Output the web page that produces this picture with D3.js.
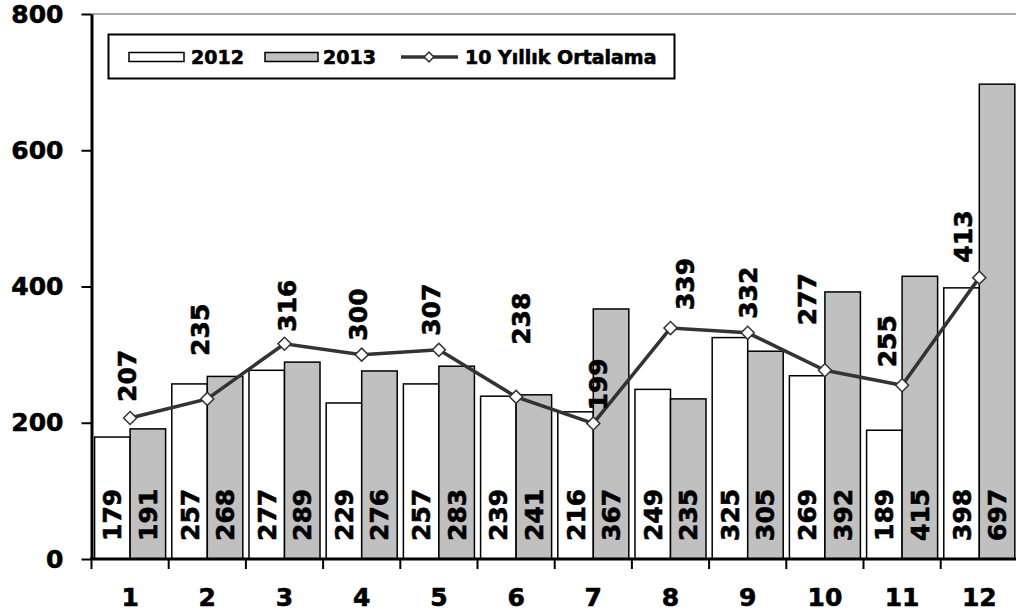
<!DOCTYPE html>
<html><head><meta charset="utf-8">
<script src="https://cdn.jsdelivr.net/npm/d3@7/dist/d3.min.js"></script>
<style>
html,body{margin:0;padding:0;background:#fff;}
text{font-family:"DejaVu Sans",Verdana,sans-serif;font-weight:bold;fill:#000;stroke:#000;stroke-width:0.6px;}
</style></head>
<body>
<svg id="chart" width="1016" height="615"></svg>
<script>
const months = ["1","2","3","4","5","6","7","8","9","10","11","12"];
const seriesNames = ["2012","2013"];
const values2012 = [179,257,277,229,257,239,216,249,325,269,189,398];
const values2013 = [191,268,289,276,283,241,367,235,305,392,415,697];
const average10 = [207,235,316,300,307,238,199,339,332,277,255,413];
const averageName = "10 Yıllık Ortalama";
const yTicks = [0,200,400,600,800];

// label placement tweaks relative to the marker (layout, px)
const avgLabelLift = [16,43,12,14,14,52,13,18,14,45,18,15];
const avgLabelShift = [-3,-7,2,-4,-8,5,5,14,0,-18,-15,-16];

const svg = d3.select("#chart");
const fontSize = 25;
const xLeft = 91.5, xRight = 1017.9, yBottom = 559, yTop = 14;

const x0 = d3.scaleBand().domain(months).range([xLeft, xRight]).paddingInner(0.08).paddingOuter(0.04);
const x1 = d3.scaleBand().domain(seriesNames).range([0, x0.bandwidth()]);
const y = d3.scaleLinear().domain([0, 800]).range([yBottom, yTop]);
const fills = {"2012":"#ffffff","2013":"#c0c0c0"};

// top border line
svg.append("line").attr("x1", xLeft).attr("x2", 1016).attr("y1", y(800)).attr("y2", y(800))
  .attr("stroke", "#8c8c8c").attr("stroke-width", 1.5);

// bars
const barData = months.map((m,i)=>({m, vals:[{s:"2012",v:values2012[i]},{s:"2013",v:values2013[i]}]}));
const g = svg.append("g");
const groups = g.selectAll("g.grp").data(barData).join("g").attr("class","grp")
  .attr("transform", d=>`translate(${x0(d.m)},0)`);
groups.selectAll("rect").data(d=>d.vals).join("rect")
  .attr("x", d=>x1(d.s)).attr("width", x1.bandwidth())
  .attr("y", d=>y(d.v)).attr("height", d=>y(0)-y(d.v))
  .attr("fill", d=>fills[d.s]).attr("stroke", "#000").attr("stroke-width", 1.5);
groups.selectAll("text").data(d=>d.vals).join("text")
  .attr("transform", d=>`translate(${x1(d.s)+x1.bandwidth()/2},${y(0)-18}) rotate(-90)`)
  .attr("dy", "0.36em").attr("text-anchor","start")
  .style("font-size", fontSize+"px").text(d=>d.v);

// axes
const yAxis = d3.axisLeft(y).tickValues(yTicks).tickSize(10).tickPadding(18).tickSizeOuter(0);
const ya = svg.append("g").attr("transform", `translate(${xLeft},0)`).call(yAxis);
ya.select(".domain").attr("stroke","#000").attr("stroke-width",3);
ya.selectAll(".tick line").attr("stroke","#000").attr("stroke-width",2);
ya.selectAll(".tick text").style("font-size", fontSize+"px").attr("fill","#000").attr("font-family",null);

const xa = svg.append("g").attr("transform", `translate(0,${yBottom})`);
xa.append("line").attr("x1", xLeft-1.5).attr("x2", 1016).attr("y1",0).attr("y2",0)
  .attr("stroke","#000").attr("stroke-width",3);
const boundaries = months.map((m,i)=> xLeft + x0.step()*i).concat([xLeft + x0.step()*12]);
xa.selectAll("line.tk").data(boundaries.filter(b=>b<1016)).join("line").attr("class","tk")
  .attr("x1", d=>d).attr("x2", d=>d).attr("y1",0).attr("y2",10)
  .attr("stroke","#000").attr("stroke-width",2);
xa.selectAll("text").data(months).join("text")
  .attr("x", d=>x0(d)+x0.bandwidth()/2).attr("y", 38)
  .attr("dy","0.36em").attr("text-anchor","middle")
  .style("font-size", fontSize+"px").text(d=>d);

// line series
const cx = i => x0(months[i]) + x0.bandwidth()/2;
const line = d3.line().x((d,i)=>cx(i)).y(d=>y(d));
svg.append("path").datum(average10).attr("d", line)
  .attr("fill","none").attr("stroke","#333").attr("stroke-width",3.5);
svg.selectAll("path.mk").data(average10).join("path").attr("class","mk")
  .attr("d", d3.symbol().type(d3.symbolSquare).size(85))
  .attr("transform",(d,i)=>`translate(${cx(i)},${y(d)}) rotate(45)`)
  .attr("fill","#fff").attr("stroke","#333").attr("stroke-width",1.5);
svg.selectAll("text.avg").data(average10).join("text").attr("class","avg")
  .attr("transform",(d,i)=>`translate(${cx(i)+avgLabelShift[i]},${y(d)-avgLabelLift[i]}) rotate(-90)`)
  .attr("dy","0.36em").attr("text-anchor","start")
  .style("font-size", fontSize+"px").text(d=>d);

// legend
const lg = svg.append("g");
lg.append("rect").attr("x",108.5).attr("y",34.5).attr("width",566).attr("height",44)
  .attr("fill","#fff").attr("stroke","#000").attr("stroke-width",2);
const ly = 57;
const lfs = 19;
lg.append("rect").attr("x",129).attr("y",ly-4.5).attr("width",55).attr("height",9)
  .attr("fill",fills["2012"]).attr("stroke","#000").attr("stroke-width",1.5);
lg.append("text").attr("x",191).attr("y",ly).attr("dy","0.36em").style("font-size",lfs+"px").text(seriesNames[0]);
lg.append("rect").attr("x",265).attr("y",ly-4.5).attr("width",53).attr("height",9)
  .attr("fill",fills["2013"]).attr("stroke","#000").attr("stroke-width",1.5);
lg.append("text").attr("x",323).attr("y",ly).attr("dy","0.36em").style("font-size",lfs+"px").text(seriesNames[1]);
lg.append("line").attr("x1",401).attr("x2",458).attr("y1",ly).attr("y2",ly)
  .attr("stroke","#333").attr("stroke-width",3.5);
lg.append("path").attr("d", d3.symbol().type(d3.symbolSquare).size(48)())
  .attr("transform",`translate(429,${ly}) rotate(45)`)
  .attr("fill","#fff").attr("stroke","#333").attr("stroke-width",1.5);
lg.append("text").attr("x",465).attr("y",ly).attr("dy","0.36em").style("font-size",lfs+"px").text(averageName);
</script>
</body></html>
